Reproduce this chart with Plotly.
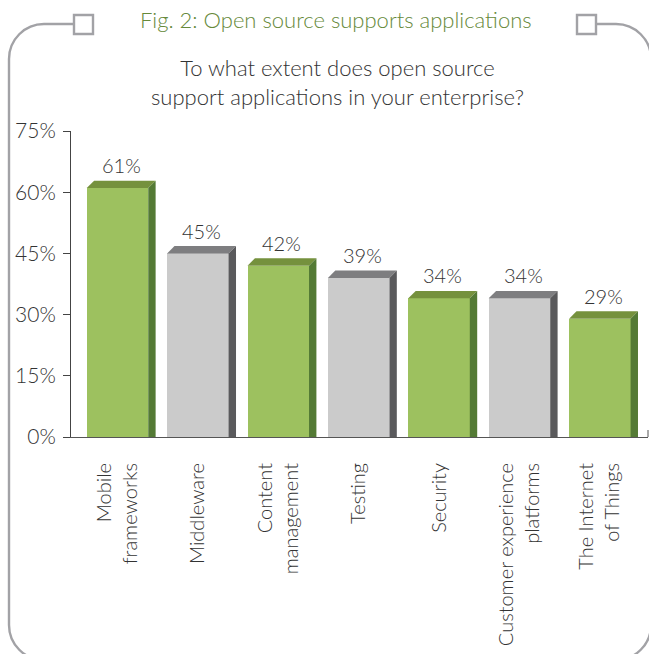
import plotly.graph_objects as go

# ---- data ----
categories = ["Mobile<br>frameworks", "Middleware", "Content<br>management", "Testing",
              "Security", "Customer experience<br>platforms", "The Internet<br>of Things"]
values = [61, 45, 42, 39, 34, 34, 29]
highlight = [True, False, True, False, True, False, True]
y_ticks = [0, 15, 30, 45, 60, 75]
y_tick_labels = ["0%", "15%", "30%", "45%", "60%", "75%"]

title = "Fig. 2: Open source supports applications"
subtitle = "To what extent does open source<br>support applications in your enterprise?"

# ---- geometry ----
W, H = 649, 654
ML, MR, MT, MB = 71, 1, 131, 217
PW, PH = W - ML - MR, H - MT - MB
X_RANGE = [-0.578, 6.599]
Y_RANGE = [0, 75]
BAR_W = 0.765
DEPTH_PX = 7.4

ux = PW / (X_RANGE[1] - X_RANGE[0])   # px per x unit
uy = PH / (Y_RANGE[1] - Y_RANGE[0])   # px per y unit
DX = DEPTH_PX / ux
DY = DEPTH_PX / uy

def px(xp):
    return (xp - ML) / PW

def py(yp):
    return (H - MB - yp) / PH

GREEN = dict(front="#9DC15F", top="#75913D", side="#547A35")
GRAY = dict(front="#CBCBCB", top="#7E7E80", side="#5A5A5C")

FONT = "Lato, 'Open Sans', sans-serif"
TXT = "#333333"

fig = go.Figure()

# front faces
fig.add_trace(go.Bar(
    x=list(range(len(values))), y=values, width=BAR_W,
    marker=dict(color=[GREEN["front"] if h else GRAY["front"] for h in highlight],
                line=dict(width=0)),
    hoverinfo="skip", showlegend=False,
))

# top and side faces give the bars depth
for i, (v, h) in enumerate(zip(values, highlight)):
    pal = GREEN if h else GRAY
    x0, x1 = i - BAR_W / 2, i + BAR_W / 2
    fig.add_trace(go.Scatter(
        x=[x0, x1, x1 + DX, x0 + DX, x0], y=[v, v, v + DY, v + DY, v],
        fill="toself", fillcolor=pal["top"], mode="lines", line=dict(width=0),
        hoverinfo="skip", showlegend=False,
    ))
    fig.add_trace(go.Scatter(
        x=[x1, x1 + DX, x1 + DX, x1, x1], y=[0, 0, v + DY, v, 0],
        fill="toself", fillcolor=pal["side"], mode="lines", line=dict(width=0),
        hoverinfo="skip", showlegend=False,
    ))

annotations = []
for i, v in enumerate(values):
    annotations.append(dict(
        x=i + DX / 2, y=v + DY, xref="x", yref="y", text=f"{v}%",
        showarrow=False, yanchor="middle", yshift=15.5,
        font=dict(family=FONT, size=20, color=TXT, weight=300),
    ))

annotations.append(dict(
    x=px(336), y=py(20), xref="paper", yref="paper", text=title, showarrow=False,
    xanchor="center", yanchor="middle",
    font=dict(family=FONT, size=22, color="#66893A", weight=300),
))
annotations.append(dict(
    x=px(337), y=py(82), xref="paper", yref="paper", text=subtitle, showarrow=False,
    xanchor="center", yanchor="middle",
    font=dict(family=FONT, size=22, color=TXT, weight=300),
))

# rounded frame with two small squares on the top edge
FRAME = "#A2A2A6"
k = 0.5523
R = 35
L, T, Rt, B = 9, 24, 651, 660

def P(xp, yp):
    return f"{px(xp):.5f},{py(yp):.5f}"

path = (
    f"M {P(74, T)} L {P(L + R, T)} "
    f"C {P(L + R - k * R, T)} {P(L, T + R - k * R)} {P(L, T + R)} "
    f"L {P(L, B - R)} "
    f"C {P(L, B - R + k * R)} {P(L + R - k * R, B)} {P(L + R, B)} "
    f"L {P(Rt - R, B)} "
    f"C {P(Rt - R + k * R, B)} {P(Rt, B - R + k * R)} {P(Rt, B - R)} "
    f"L {P(Rt, T + R)} "
    f"C {P(Rt, T + R - k * R)} {P(Rt - R + k * R, T)} {P(Rt - R, T)} "
    f"L {P(596, T)}"
)
shapes = [
    dict(type="path", xref="paper", yref="paper", path=path,
         line=dict(color=FRAME, width=2.4), fillcolor="rgba(0,0,0,0)", layer="below"),
    dict(type="rect", xref="paper", yref="paper", x0=px(74), x1=px(93), y0=py(34), y1=py(15),
         line=dict(color=FRAME, width=2.4), fillcolor="white"),
    dict(type="rect", xref="paper", yref="paper", x0=px(577), x1=px(596), y0=py(34), y1=py(15),
         line=dict(color=FRAME, width=2.4), fillcolor="white"),
    # end tick on the category axis
    dict(type="line", xref="paper", yref="paper", x0=1, x1=1, y0=0, y1=7 / PH,
         line=dict(color="#555555", width=1)),
]

fig.update_layout(
    width=W, height=H,
    margin=dict(l=ML, r=MR, t=MT, b=MB, pad=0),
    paper_bgcolor="white", plot_bgcolor="white",
    showlegend=False, bargap=0,
    annotations=annotations, shapes=shapes,
    font=dict(family=FONT, size=20, color=TXT, weight=300),
    xaxis=dict(
        range=X_RANGE, tickmode="array", tickvals=list(range(len(categories))),
        ticktext=categories, tickangle=-90, ticks="", showgrid=False, zeroline=False,
        showline=True, linecolor="#555555", linewidth=1,
        tickfont=dict(family=FONT, size=20, color=TXT, weight=300),
        ticklabelstandoff=17, fixedrange=True,
    ),
    yaxis=dict(
        range=Y_RANGE, tickmode="array", tickvals=y_ticks, ticktext=y_tick_labels,
        ticks="outside", ticklen=7, tickcolor="#444444", tickwidth=1,
        showgrid=False, zeroline=False, showline=True, linecolor="#444444", linewidth=1,
        tickfont=dict(family=FONT, size=21, color=TXT, weight=300),
        ticklabelstandoff=3, fixedrange=True,
    ),
)

fig.write_html("out.html", config=dict(displayModeBar=False))
